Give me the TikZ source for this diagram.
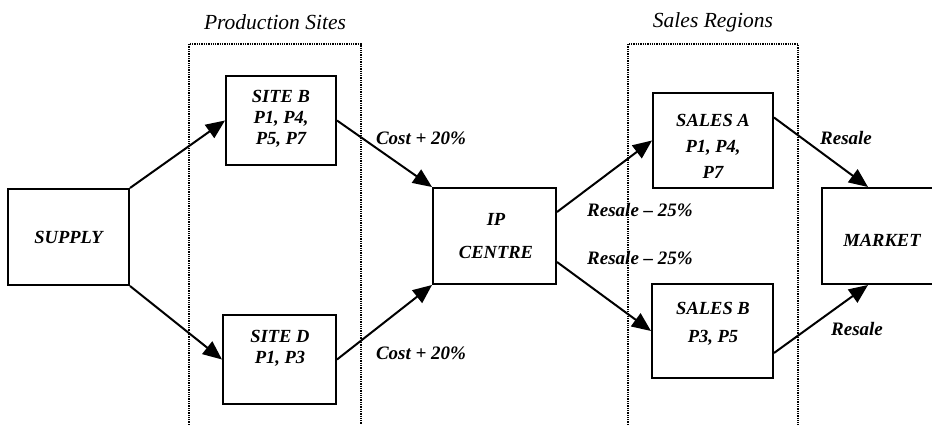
\documentclass[tikz,border=0pt]{standalone}
\usepackage{fontspec}
\setmainfont{Liberation Serif}
\usetikzlibrary{arrows.meta}
\begin{document}
\begin{tikzpicture}[x=1pt,y=-1pt,
  box/.style={draw, line width=2pt, rectangle, inner sep=0pt},
  txt/.style={font=\fontsize{18.5}{21}\selectfont\bfseries\itshape, align=center, inner sep=0pt},
  ttl/.style={font=\fontsize{21.5}{24}\selectfont\itshape, inner sep=0pt},
  lbl/.style={font=\fontsize{19}{21}\selectfont\bfseries\itshape, inner sep=0pt},
  arr/.style={line width=2pt, -{Triangle[length=19pt,width=16pt]}},
  region/.style={line width=1.3pt, densely dotted}]
\useasboundingbox (0,0) rectangle (932,425);
% regions
\draw[region] (189,425) -- (189,44) -- (361,44) -- (361,425);
\draw[region] (628,425) -- (628,44) -- (798,44) -- (798,425);
\node[ttl] (tprod) at (275,22) {Production Sites};
\node[ttl] (tsales) at (713,22) {Sales Regions};
% boxes
\node[box, minimum width=121pt, minimum height=96pt] (supply) at (68.5,237) {};
\node[txt] (supplyt) at (supply) {SUPPLY};
\node[box, minimum width=110pt, minimum height=89pt] (siteb) at (281,120.5) {};
\node[txt] (sitebt) at (281,119) {SITE B\\P1, P4,\\P5, P7};
\node[box, minimum width=113pt, minimum height=89pt] (sited) at (279.5,359.5) {};
\node[txt] (sitedt) at (280,348) {SITE D\\P1, P3};
\node[box, minimum width=123pt, minimum height=96pt] (ip) at (494.5,236) {};
\node[txt] (ipt) at (496,236) {IP\\[12pt]CENTRE};
\node[box, minimum width=120pt, minimum height=95pt] (salesa) at (713,140.5) {};
\node[txt] (salesat) at (713,146) {SALES A\\[5pt]P1, P4,\\[5pt]P7};
\node[box, minimum width=121pt, minimum height=94pt] (salesb) at (712.5,331) {};
\node[txt] (salesbt) at (713,324) {SALES B\\[7pt]P3, P5};
\node[box, minimum width=120pt, minimum height=96pt] (market) at (882,236) {};
\node[txt] (markett) at (882,240) {MARKET};
% arrows
\draw[arr] (supply.north east) -- (siteb.west);
\draw[arr] (supply.south east) -- (sited.west);
\draw[arr] (siteb.east) -- (ip.north west);
\draw[arr] (sited.east) -- (ip.south west);
\draw[arr] ([yshift=24pt]ip.east) -- (salesa.west);
\draw[arr] ([yshift=-26pt]ip.east) -- (salesb.west);
\draw[arr] ([yshift=23pt]salesa.east) -- ([xshift=-14pt]market.north);
\draw[arr] ([yshift=-22pt]salesb.east) -- ([xshift=-14pt]market.south);
% labels
\node[lbl] (c1) at (421,138) {Cost + 20\%};
\node[lbl] (c2) at (421,353) {Cost + 20\%};
\node[lbl] (r1) at (640,210) {Resale -- 25\%};
\node[lbl] (r2) at (640,258) {Resale -- 25\%};
\node[lbl] (r3) at (846,138) {Resale};
\node[lbl] (r4) at (857,329) {Resale};
\end{tikzpicture}
\end{document}
